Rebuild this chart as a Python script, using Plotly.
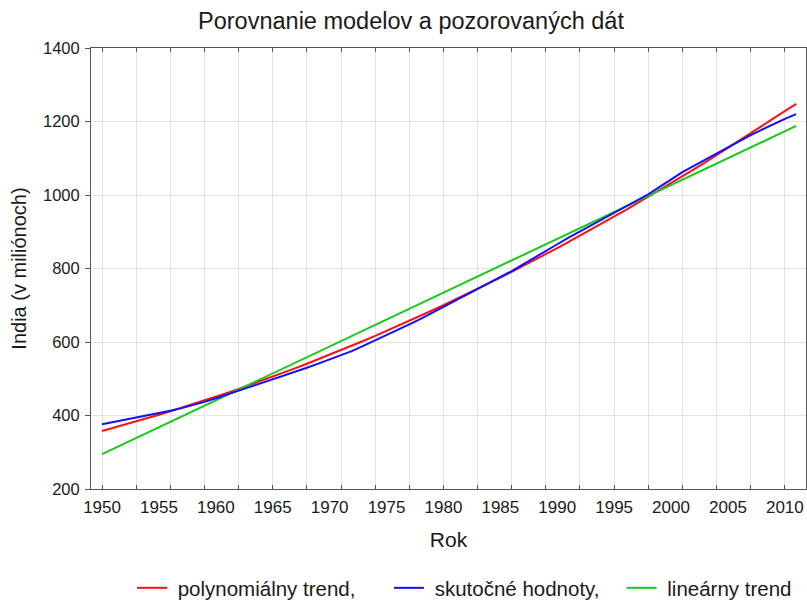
import plotly.graph_objects as go

years = list(range(1950, 2012))

polynomial_trend = [
    358.0, 366.4, 375.0, 383.8, 392.8, 402.0, 411.4, 421.1, 430.9, 441.0,
    451.2, 461.7, 472.3, 483.2, 494.3, 505.6, 517.1, 528.8, 540.7, 552.9,
    565.2, 577.7, 590.5, 603.5, 616.6, 630.0, 643.6, 657.4, 671.4, 685.7,
    700.0, 714.6, 729.5, 744.5, 759.7, 775.2, 790.9, 806.7, 822.8, 839.1,
    855.6, 872.3, 889.2, 906.3, 923.7, 941.2, 959.0, 976.9, 995.1, 1013.4,
    1032.0, 1050.8, 1069.8, 1089.0, 1108.4, 1128.0, 1147.8, 1167.9, 1188.1, 1208.5,
    1229.2, 1248.0,
]

actual_values = [
    376, 382, 388, 394, 401, 407, 413, 420, 428, 437,
    447, 458, 469, 478, 488, 498, 508, 519, 530, 541,
    552, 563, 576, 590, 604, 618, 633, 648, 663, 679,
    695, 711, 728, 745, 761, 777, 793, 811, 830, 848,
    866, 884, 901, 917, 933, 950, 967, 984, 1002, 1022,
    1042, 1062, 1079, 1096, 1113, 1130, 1147, 1163, 1178, 1193,
    1207, 1220,
]

linear_trend = [
    295.0, 309.6, 324.3, 338.9, 353.6, 368.2, 382.8, 397.5, 412.1, 426.8,
    441.4, 456.0, 470.7, 485.3, 500.0, 514.6, 529.2, 543.9, 558.5, 573.2,
    587.8, 602.4, 617.1, 631.7, 646.4, 661.0, 675.6, 690.3, 704.9, 719.6,
    734.2, 748.8, 763.5, 778.1, 792.8, 807.4, 822.0, 836.7, 851.3, 866.0,
    880.6, 895.2, 909.9, 924.5, 939.2, 953.8, 968.4, 983.1, 997.7, 1012.4,
    1027.0, 1041.6, 1056.3, 1070.9, 1085.6, 1100.2, 1114.8, 1129.5, 1144.1, 1158.8,
    1173.4, 1188.0,
]

x_label_years = [1950, 1955, 1960, 1965, 1970, 1975, 1980, 1985, 1990, 1995, 2000, 2005, 2010]
x_grid_years = list(range(1950, 2011, 3))
y_ticks = [200, 400, 600, 800, 1000, 1200, 1400]

series_names = ["polynomiálny trend,", "skutočné hodnoty,", "lineárny trend"]

FONT = "Liberation Sans, Arial, sans-serif"
TXT = "#1a1a1a"
NB = "\u00a0"

W, H = 807, 601

# legend labels: one leading space (line-to-text gap) and trailing spaces (gap between entries)
legend_labels = [NB + series_names[0] + NB * 5,
                 NB + series_names[1] + NB * 3,
                 NB + series_names[2]]

fig = go.Figure()
fig.add_trace(go.Scatter(x=years, y=polynomial_trend, mode="lines", name=legend_labels[0],
                         line=dict(color="#ff1010", width=2)))
fig.add_trace(go.Scatter(x=years, y=actual_values, mode="lines", name=legend_labels[1],
                         line=dict(color="#1010ff", width=2), xaxis="x2"))
fig.add_trace(go.Scatter(x=years, y=linear_trend, mode="lines", name=legend_labels[2],
                         line=dict(color="#19c819", width=2)))

xr = [1949.03, 2011.86]

fig.update_layout(
    width=W, height=H,
    paper_bgcolor="white", plot_bgcolor="white",
    margin=dict(l=91, r=1, t=48, b=112, autoexpand=False),
    font=dict(family=FONT, color=TXT),
    title=dict(text="Porovnanie modelov a pozorovaných dát", font=dict(size=23.5, color=TXT),
               x=411.0 / W, xref="container", xanchor="center",
               y=1 - 21 / H, yref="container", yanchor="middle"),
    xaxis=dict(range=xr, tickmode="array", tickvals=x_grid_years, showticklabels=False,
               ticks="inside", ticklen=4, tickcolor="#555", tickwidth=1,
               showgrid=True, gridcolor="#e3e3e3", gridwidth=1, automargin=False,
               showline=True, linecolor="#555", linewidth=1, mirror="ticks", zeroline=False),
    xaxis2=dict(range=xr, overlaying="x", matches="x", anchor="y", side="bottom",
                tickmode="array", tickvals=x_label_years, ticktext=[str(v) for v in x_label_years],
                ticks="", showgrid=False, showline=False, zeroline=False, automargin=False,
                tickfont=dict(size=17, color=TXT), ticklabelstandoff=6,
                title=dict(text="Rok", font=dict(size=21, color=TXT), standoff=16)),
    yaxis=dict(range=[200, 1400], tickmode="array", tickvals=y_ticks,
               ticks="outside", ticklen=5, tickcolor="#555", automargin=False,
               showgrid=True, gridcolor="#e3e3e3", gridwidth=1,
               showline=True, linecolor="#555", linewidth=1, mirror="ticks", zeroline=False,
               tickfont=dict(size=16.5, color=TXT), ticklabelstandoff=2,
               title=dict(text="India (v miliónoch)", font=dict(size=20, color=TXT), standoff=10)),
    legend=dict(orientation="h", xref="container", x=797 / W, xanchor="right",
                yref="container", y=1 - 588 / H, yanchor="middle",
                font=dict(size=20.5, color=TXT), bgcolor="rgba(0,0,0,0)", itemwidth=30),
    showlegend=True,
)

fig.write_html("out.html", config={"displayModeBar": False},
               post_script="document.body.style.margin='0';")
